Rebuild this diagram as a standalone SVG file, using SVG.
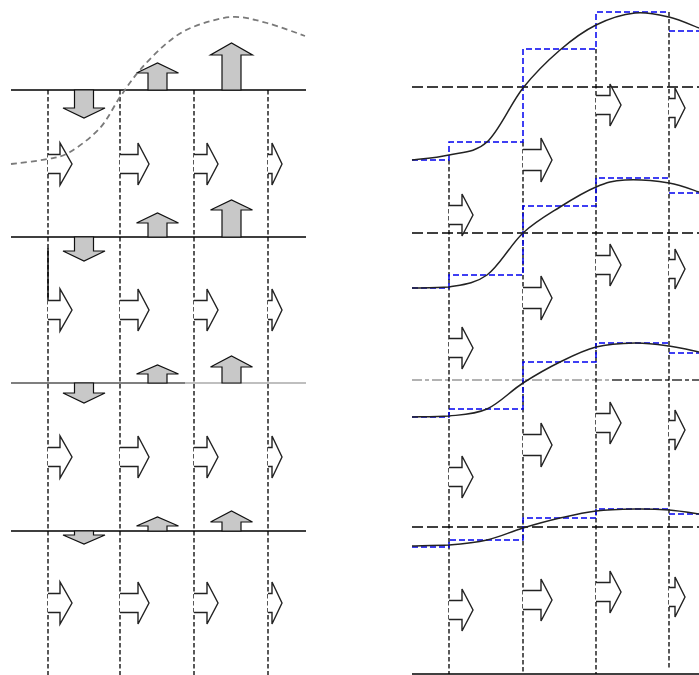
<svg xmlns="http://www.w3.org/2000/svg" width="699" height="675" viewBox="0 0 699 675">
<style>
.bg{fill:#fff}
.hl{stroke:#000;stroke-width:1.4;fill:none}
.vd{stroke:#000;stroke-width:1.3;stroke-dasharray:4.5,2.5;fill:none}
.rh{stroke:#000;stroke-width:1.4;stroke-dasharray:11,4;fill:none}
.dd{stroke-width:1.5;stroke-dasharray:10,3,4,3;fill:none}
.gc{stroke:#7a7a7a;stroke-width:1.8;stroke-dasharray:6,4;fill:none}
.bl{stroke:#0000f0;stroke-width:1.5;stroke-dasharray:6,3;fill:none}
.cv{stroke:#222;stroke-width:1.5;fill:none}
.ha{fill:#fff;stroke:#222;stroke-width:1.4;stroke-linejoin:miter}
.ga{fill:#c8c8c8;stroke:#111;stroke-width:1.2}
</style>
<rect class="bg" x="0" y="0" width="699" height="675"/>
<g id="connectors">
  <g id="left-grid">
    <path class="vd" d="M48,90 V675 M120,90 V675 M194,90 V675 M268,90 V675"/>
    <path class="hl" d="M48,248 V300"/>
    <path class="hl" d="M11,90 H306 M11,237 H306 M11,531 H306"/>
    <path class="hl" style="stroke:#555" d="M11,383 H185"/>
    <path class="hl" style="stroke:#aaa" d="M185,383 H306"/>
  </g>
  <g id="right-grid">
    <path class="rh" d="M412,87 H699 M412,233 H699 M412,527 H699"/>
    <path class="dd" style="stroke:#999" d="M412,380 H612"/>
    <path class="dd" style="stroke:#333" d="M612,380 H699"/>
    <path class="vd" d="M449,160 V674 M523,142 V674 M596,49 V674 M669,12 V670"/>
    <path class="hl" d="M412,674 H699"/>
  </g>
  <g id="staircases">
    <path class="bl" d="M412,160 H449 V142 H523 V49 H596 V12 H669 M669,31 H699"/>
    <path class="bl" d="M412,288 H449 V275 H523 V206 H596 V178 H669 M669,193 H699"/>
    <path class="bl" d="M412,417 H449 V409 H523 V362 H596 V343 H669 M669,353 H699"/>
    <path class="bl" d="M412,547 H449 V540 H523 V518 H596 V509 H669 M669,514 H699"/>
  </g>
  <g id="curves">
    <path class="cv" d="M412,160 C418.2,159.2 436.5,158 449,155 C461.5,152 474.7,153.2 487,142 C499.3,130.8 510.8,103.3 523,88 C535.2,72.7 547.8,60.5 560,50 C572.2,39.5 583.5,31.2 596,25 C608.5,18.8 622.8,14.3 635,13 C647.2,11.7 658.3,14.5 669,17 C679.7,19.5 694,26.2 699,28"/>
    <path class="cv" d="M412,288 C418.2,287.8 436.5,288 449,287 C461.5,284.8 474.7,284 487,275 C499.3,266 510.8,244.3 523,233 C535.2,221.7 547.8,214.7 560,207 C572.2,199.3 585.2,191.5 596,187 C606.8,182.5 612.8,180.7 625,180 C637.2,179.3 656.7,181 669,183 C681.3,185 694,190.5 699,192"/>
    <path class="cv" d="M412,417 C418.2,416.8 436.5,416.8 449,416 C461.5,414.7 474.7,414.5 487,409 C499.3,403.5 510.8,390.8 523,383 C535.2,375.2 547.8,368 560,362 C572.2,356 583.5,350.2 596,347 C608.5,343.8 622.8,343.2 635,343 C647.2,342.8 658.3,344.5 669,346 C679.7,347.5 694,351 699,352"/>
    <path class="cv" d="M412,546 C418.2,545.8 436.5,545.5 449,545 C461.5,544 474.7,542.8 487,540 C499.3,537.2 510.8,531.7 523,528 C535.2,524.3 547.8,520.8 560,518 C572.2,515.2 583.5,512.5 596,511 C608.5,509.5 622.8,509.2 635,509 C647.2,508.8 658.3,509.2 669,510 C679.7,510.8 694,513.3 699,514"/>
  </g>
</g>
<g id="left-flux-arrows">
  <path class="ha" d="M48,154.5 H60 V143 L72,164 L60,185 V173.5 H48"/>
  <path class="ha" d="M48,300.5 H60 V289 L72,310 L60,331 V319.5 H48"/>
  <path class="ha" d="M48,447.5 H60 V436 L72,457 L60,478 V466.5 H48"/>
  <path class="ha" d="M48,593.5 H60 V582 L72,603 L60,624 V612.5 H48"/>
  <path class="ha" d="M120,154.5 H138 V143 L149,164 L138,185 V173.5 H120"/>
  <path class="ha" d="M120,300.5 H138 V289 L149,310 L138,331 V319.5 H120"/>
  <path class="ha" d="M120,447.5 H138 V436 L149,457 L138,478 V466.5 H120"/>
  <path class="ha" d="M120,593.5 H138 V582 L149,603 L138,624 V612.5 H120"/>
  <path class="ha" d="M194,154.5 H207 V143 L218,164 L207,185 V173.5 H194"/>
  <path class="ha" d="M194,300.5 H207 V289 L218,310 L207,331 V319.5 H194"/>
  <path class="ha" d="M194,447.5 H207 V436 L218,457 L207,478 V466.5 H194"/>
  <path class="ha" d="M194,593.5 H207 V582 L218,603 L207,624 V612.5 H194"/>
  <path class="ha" d="M268,154.5 H272 V143 L282,164 L272,185 V173.5 H268"/>
  <path class="ha" d="M268,300.5 H272 V289 L282,310 L272,331 V319.5 H268"/>
  <path class="ha" d="M268,447.5 H272 V436 L282,457 L272,478 V466.5 H268"/>
  <path class="ha" d="M268,593.5 H272 V582 L282,603 L272,624 V612.5 H268"/>
</g>
<g id="left-vertical-arrows">
  <path class="ga" d="M74.5,90 V108 H63 L84,118 L105,108 H93.5 V90 Z"/>
  <path class="ga" d="M74.5,237 V251 H63 L84,261 L105,251 H93.5 V237 Z"/>
  <path class="ga" d="M74.5,383 V393 H63 L84,403 L105,393 H93.5 V383 Z"/>
  <path class="ga" d="M74.5,531 V535 H63 L84,544 L105,535 H93.5 V531 Z"/>
  <path class="ga" d="M148,90 V73 H136.5 L157.5,63 L178.5,73 H167 V90 Z"/>
  <path class="ga" d="M148,237 V223 H136.5 L157.5,213 L178.5,223 H167 V237 Z"/>
  <path class="ga" d="M148,383 V374 H136.5 L157.5,365 L178.5,374 H167 V383 Z"/>
  <path class="ga" d="M148,531 V526 H136.5 L157.5,517 L178.5,526 H167 V531 Z"/>
  <path class="ga" d="M222,90 V55 H210.5 L231.5,43 L252.5,55 H241 V90 Z"/>
  <path class="ga" d="M222,237 V210 H210.5 L231.5,200 L252.5,210 H241 V237 Z"/>
  <path class="ga" d="M222,383 V367 H210.5 L231.5,356 L252.5,367 H241 V383 Z"/>
  <path class="ga" d="M222,531 V522 H210.5 L231.5,511 L252.5,522 H241 V531 Z"/>
</g>
<g id="left-curve">
  <path class="gc" d="M11,164 C17.2,163.2 38.2,161 48,159 C57.8,157 61.3,157.2 70,152 C78.7,146.8 91.7,137.2 100,128 C108.3,118.8 113.3,106.7 120,97 C126.7,87.3 132.2,79 140,70 C147.8,61 158.2,50.2 167,43 C175.8,35.8 182.2,31.3 193,27 C203.8,22.7 219.7,17.7 232,17 C244.3,16.3 254.8,19.8 267,23 C279.2,26.2 298.7,33.8 305,36"/>
</g>
<g id="right-flux-arrows">
  <path class="ha" d="M449,205.5 H462 V194 L473,215 L462,236 V224.5 H449"/>
  <path class="ha" d="M449,338.5 H462 V327 L473,348 L462,369 V357.5 H449"/>
  <path class="ha" d="M449,467.5 H462 V456 L473,477 L462,498 V486.5 H449"/>
  <path class="ha" d="M449,600.5 H462 V589 L473,610 L462,631 V619.5 H449"/>
  <path class="ha" d="M523,149.5 H541 V138 L552,160 L541,182 V170.5 H523"/>
  <path class="ha" d="M523,287.5 H541 V276 L552,298 L541,320 V308.5 H523"/>
  <path class="ha" d="M523,434.5 H541 V423 L552,445 L541,467 V455.5 H523"/>
  <path class="ha" d="M523,590.5 H541 V579 L552,600 L541,621 V609.5 H523"/>
  <path class="ha" d="M596,95.5 H610 V84 L621,105 L610,126 V114.5 H596"/>
  <path class="ha" d="M596,255.5 H610 V244 L621,265 L610,286 V274.5 H596"/>
  <path class="ha" d="M596,413.5 H610 V402 L621,423 L610,444 V432.5 H596"/>
  <path class="ha" d="M596,582.5 H610 V571 L621,592 L610,613 V601.5 H596"/>
  <path class="ha" d="M669,98.5 H675 V88 L685,108 L675,128 V117.5 H669"/>
  <path class="ha" d="M669,259.5 H675 V249 L685,269 L675,289 V278.5 H669"/>
  <path class="ha" d="M669,420.5 H675 V410 L685,430 L675,450 V439.5 H669"/>
  <path class="ha" d="M669,587.5 H675 V577 L685,597 L675,617 V606.5 H669"/>
</g>
</svg>
